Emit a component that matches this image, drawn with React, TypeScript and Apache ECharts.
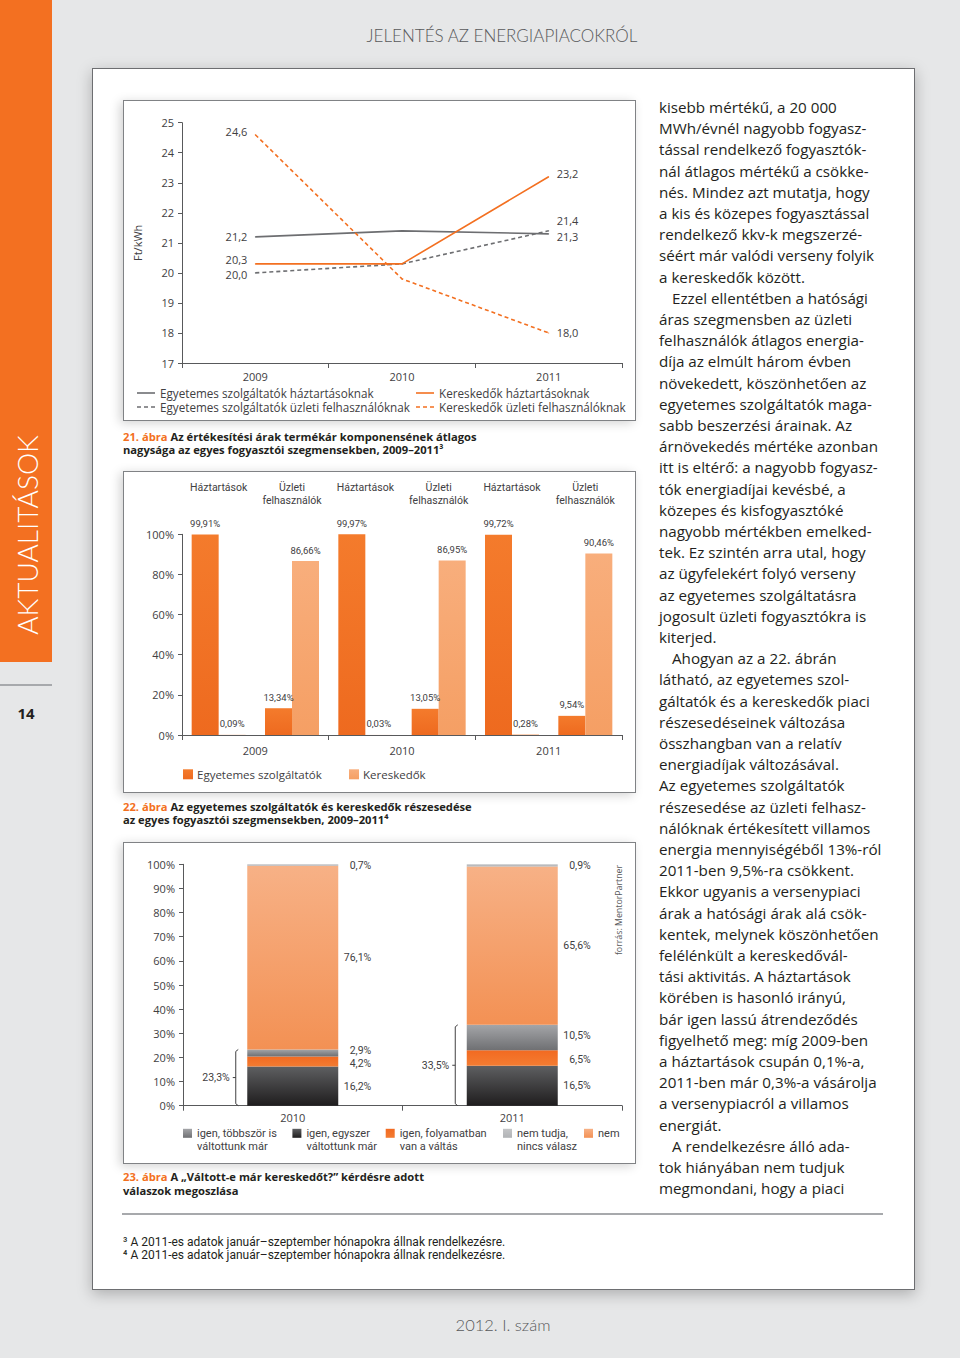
import React, { useEffect, useRef } from 'react';
import * as echarts from 'echarts';

// ---------------- data ----------------
const years = ['2009', '2010', '2011'];
const egyHaztartas = [21.2, 21.4, 21.3];
const egyUzleti = [20.0, 20.3, 21.4];
const kerHaztartas = [20.3, 20.3, 23.2];
const kerUzleti = [24.6, 19.8, 18.0];

const segments = ['Háztartások', 'Üzleti felhasználók'];
const egyShare = [99.91, 13.34, 99.97, 13.05, 99.72, 9.54];
const kerShare = [0.09, 86.66, 0.03, 86.95, 0.28, 90.46];

const surveyYears = ['2010', '2011'];
const valtottEgyszer = [16.2, 16.5];
const folyamatban = [4.2, 6.5];
const tobbszor = [2.9, 10.5];
const nemValtott = [76.1, 65.6];
const nemTudja = [0.7, 0.9];

const bodyLines = [
  'kisebb mértékű, a 20 000',
  'MWh/évnél nagyobb fogyasz-',
  'tással rendelkező fogyasztók-',
  'nál átlagos mértékű a csökke-',
  'nés. Mindez azt mutatja, hogy',
  'a kis és közepes fogyasztással',
  'rendelkező kkv-k megszerzé-',
  'séért már valódi verseny folyik',
  'a kereskedők között.',
  'Ezzel ellentétben a hatósági',
  'áras szegmensben az üzleti',
  'felhasználók átlagos energia-',
  'díja az elmúlt három évben',
  'növekedett, köszönhetően az',
  'egyetemes szolgáltatók maga-',
  'sabb beszerzési árainak. Az',
  'árnövekedés mértéke azonban',
  'itt is eltérő: a nagyobb fogyasz-',
  'tók energiadíjai kevésbé, a',
  'közepes és kisfogyasztóké',
  'nagyobb mértékben emelked-',
  'tek. Ez szintén arra utal, hogy',
  'az ügyfelekért folyó verseny',
  'az egyetemes szolgáltatásra',
  'jogosult üzleti fogyasztókra is',
  'kiterjed.',
  'Ahogyan az a 22. ábrán',
  'látható, az egyetemes szol-',
  'gáltatók és a kereskedők piaci',
  'részesedéseinek változása',
  'összhangban van a relatív',
  'energiadíjak változásával.',
  'Az egyetemes szolgáltatók',
  'részesedése az üzleti felhasz-',
  'nálóknak értékesített villamos',
  'energia mennyiségéből 13%-ról',
  '2011-ben 9,5%-ra csökkent.',
  'Ekkor ugyanis a versenypiaci',
  'árak a hatósági árak alá csök-',
  'kentek, melynek köszönhetően',
  'felélénkült a kereskedővál-',
  'tási aktivitás. A háztartások',
  'körében is hasonló irányú,',
  'bár igen lassú átrendeződés',
  'figyelhető meg: míg 2009-ben',
  'a háztartások csupán 0,1%-a,',
  '2011-ben már 0,3%-a vásárolja',
  'a versenypiacról a villamos',
  'energiát.',
  'A rendelkezésre álló ada-',
  'tok hiányában nem tudjuk',
  'megmondani, hogy a piaci',
];
const indentedLines = [9, 26, 49];

const footnotes = [
  '³ A 2011-es adatok január–szeptember hónapokra állnak rendelkezésre.',
  '⁴ A 2011-es adatok január–szeptember hónapokra állnak rendelkezésre.',
];

// ---------------- styles ----------------
const FONT = "'Open Sans', 'Noto Sans', sans-serif";
const NARROW = "'Liberation Sans Narrow', Roboto, sans-serif";
const ROBOTO = "Roboto, 'Open Sans', sans-serif";
const LIGHT = "Lato, 'Open Sans', sans-serif";
const AX = '#58595b';
const LBL = '#414042';
const TXT = '#231f20';
const ORANGE = '#f37021';
const GRAY_LINE = '#6d6e71';
const BAR23 = 91;

const fmt1 = (v: number) => v.toFixed(1).replace('.', ',');
const fmt2 = (v: number) => v.toFixed(2).replace('.', ',');

const grad = (top: string, bottom: string) =>
  new echarts.graphic.LinearGradient(0, 0, 0, 1, [
    { offset: 0, color: top },
    { offset: 1, color: bottom },
  ]);

const txt = (x: number, y: number, text: string, opts: any = {}, extra: any = {}) => ({
  type: 'text',
  x,
  y,
  silent: true,
  z: 10,
  ...extra,
  style: {
    text,
    fontFamily: FONT,
    fontSize: 11,
    fill: TXT,
    align: 'left',
    verticalAlign: 'middle',
    ...opts,
  },
});

const lineDefs = [
  {
    name: 'Egyetemes szolgáltatók háztartásoknak',
    values: egyHaztartas,
    color: GRAY_LINE,
    dashed: false,
    labels: { 0: ['left', 0], 2: ['right', 3] } as any,
    legend: [137, 393],
  },
  {
    name: 'Egyetemes szolgáltatók üzleti felhasználóknak',
    values: egyUzleti,
    color: GRAY_LINE,
    dashed: true,
    labels: { 0: ['left', 2], 2: ['right', -10] } as any,
    legend: [137, 407],
  },
  {
    name: 'Kereskedők háztartásoknak',
    values: kerHaztartas,
    color: ORANGE,
    dashed: false,
    labels: { 0: ['left', -4], 2: ['right', -3] } as any,
    legend: [416, 393],
  },
  {
    name: 'Kereskedők üzleti felhasználóknak',
    values: kerUzleti,
    color: ORANGE,
    dashed: true,
    labels: { 0: ['left', -3], 2: ['right', 0] } as any,
    legend: [416, 407],
  },
];

const EGY_COLOR = () => grad('#f47b2c', '#ee6a1f');
const KER_COLOR = () => grad('#f8ae7c', '#f59f64');

const surveyDefs = [
  { name: 'igen, egyszer váltottunk már', data: valtottEgyszer, color: () => grad('#5e5f61', '#1f1d1e'), legend: [292.4, 'igen, egyszer\nváltottunk már'], dy: 0 },
  { name: 'igen, folyamatban van a váltás', data: folyamatban, color: () => grad('#f26a21', '#f37c32'), legend: [385.7, 'igen, folyamatban\nvan a váltás'], dy: 1.5 },
  { name: 'igen, többször is váltottunk már', data: tobbszor, color: () => grad('#a4a5a8', '#6f7073'), legend: [183, 'igen, többször is\nváltottunk már'], dy: -2 },
  { name: 'nem', data: nemValtott, color: () => grad('#f7b186', '#f39154'), legend: [584, 'nem'], dy: 0 },
  { name: 'nem tudja, nincs válasz', data: nemTudja, color: () => grad('#c4c5c7', '#b1b3b6'), legend: [503, 'nem tudja,\nnincs válasz'], dy: 0 },
];

const axisLabelStyle = { fontFamily: FONT, fontSize: 11, color: LBL };

function buildOption(): any {
  const lineSeries = lineDefs.map((d, k) => ({
    type: 'line',
    name: d.name,
    xAxisIndex: 0,
    yAxisIndex: 0,
    data: d.values.map((v, i) => {
      const s = d.labels[i];
      return s
        ? {
            value: v,
            label: {
              show: true,
              position: s[0],
              distance: 7.5,
              offset: [0, s[1]],
              formatter: fmt1(v),
              fontFamily: FONT,
              fontSize: 11,
              color: LBL,
            },
          }
        : v;
    }),
    symbol: 'circle',
    symbolSize: 1,
    showSymbol: true,
    itemStyle: { color: d.color },
    lineStyle: { color: d.color, width: 1.6, type: d.dashed ? [4, 3] : 'solid' },
    label: { show: false },
    silent: true,
    z: 3 + k,
  }));

  const shareLabel = {
    show: true,
    position: 'top',
    distance: 6,
    fontFamily: NARROW,
    fontSize: 9.5,
    color: LBL,
    formatter: (p: any) => fmt2(p.value) + '%',
  };

  const shareSeries = [
    { name: 'Egyetemes szolgáltatók', data: egyShare, color: EGY_COLOR() },
    { name: 'Kereskedők', data: kerShare, color: KER_COLOR() },
  ].map((d) => ({
    type: 'bar',
    name: d.name,
    xAxisIndex: 2,
    yAxisIndex: 1,
    data: d.data,
    barWidth: 27,
    barGap: '0%',
    itemStyle: { color: d.color },
    label: shareLabel,
    silent: true,
  }));

  const surveySeries = surveyDefs.map((d) => ({
    type: 'bar',
    name: d.name,
    stack: 'valaszok',
    xAxisIndex: 3,
    yAxisIndex: 2,
    data: d.data,
    barWidth: BAR23,
    itemStyle: { color: d.color() },
    label: {
      show: true,
      position: 'right',
      distance: 33,
      align: 'right',
      offset: [0, d.dy],
      fontFamily: ROBOTO,
      fontSize: 10.5,
      color: LBL,
      formatter: (p: any) => fmt1(p.value) + '%',
    },
    silent: true,
  }));

  const yCommon = {
    type: 'value',
    axisLine: { show: true, lineStyle: { color: AX, width: 1 } },
    axisTick: { show: true, length: 4, lineStyle: { color: AX } },
    splitLine: { show: false },
    axisLabel: { ...axisLabelStyle, margin: 8 },
  };

  const xCommon = {
    type: 'category',
    axisLine: { show: true, onZero: false, lineStyle: { color: AX, width: 1 } },
    axisTick: { show: true, length: 5, lineStyle: { color: AX } },
    splitLine: { show: false },
  };

  return {
    animation: false,
    backgroundColor: 'transparent',
    tooltip: { show: false },
    grid: [
      { left: 182, top: 122.7, width: 440, height: 240.3, outerBoundsMode: 'none' },
      { left: 182, top: 534.3, width: 440, height: 200.7, outerBoundsMode: 'none' },
      { left: 183, top: 864.3, width: 439, height: 241.4, outerBoundsMode: 'none' },
    ],
    xAxis: [
      { ...xCommon, gridIndex: 0, position: 'bottom', data: years, axisLabel: { ...axisLabelStyle, margin: 8 } },
      { ...xCommon, gridIndex: 1, position: 'bottom', data: years, axisLabel: { ...axisLabelStyle, margin: 10 } },
      {
        type: 'category',
        gridIndex: 1,
        position: 'top',
        data: years.flatMap((y) => segments.map((s) => y + ' ' + s)),
        axisLine: { show: false, onZero: false },
        axisTick: { show: false },
        splitLine: { show: false },
        axisLabel: {
          fontFamily: ROBOTO,
          fontSize: 10.5,
          color: LBL,
          interval: 0,
          margin: 52.5,
          lineHeight: 12.3,
          verticalAlign: 'top',
          formatter: (_v: string, i: number) => (i % 2 === 0 ? 'Háztartások' : 'Üzleti\nfelhasználók'),
        },
      },
      { ...xCommon, gridIndex: 2, position: 'bottom', data: surveyYears, axisLabel: { ...axisLabelStyle, margin: 6 } },
    ],
    yAxis: [
      {
        ...yCommon,
        gridIndex: 0,
        min: 17,
        max: 25,
        interval: 1,
        name: 'Ft/kWh',
        nameLocation: 'middle',
        nameGap: 39,
        nameRotate: 90,
        nameTextStyle: { fontFamily: FONT, fontSize: 11, color: LBL },
      },
      { ...yCommon, gridIndex: 1, min: 0, max: 100, interval: 20, axisLabel: { ...axisLabelStyle, margin: 8, formatter: '{value}%' } },
      { ...yCommon, gridIndex: 2, min: 0, max: 100, interval: 10, axisLabel: { ...axisLabelStyle, margin: 8, formatter: '{value}%' } },
    ],
    series: [...lineSeries, ...shareSeries, ...surveySeries],
  };
}

function staticGraphics(): any[] {
  const els: any[] = [];
  // header / footer / sidebar
  els.push(txt(502, 35, 'JELENTÉS AZ ENERGIAPIACOKRÓL', { align: 'center', fontFamily: LIGHT, fontSize: 17, fontWeight: 300, fill: '#58595b' }));
  els.push(txt(503, 1325, '2012. I. szám', { align: 'center', fontFamily: LIGHT, fontSize: 16.5, fontWeight: 300, fill: '#58595b' }));
  els.push(txt(27, 535, 'AKTUALITÁSOK', { align: 'center', fontFamily: LIGHT, fontSize: 28, fontWeight: 300, fill: '#ffffff' }, { rotation: Math.PI / 2 }));
  els.push(txt(26, 713, '14', { align: 'center', fontWeight: 'bold', fontSize: 15, fill: TXT }));

  // legend of chart 21
  lineDefs.forEach((d) => {
    const [lx, ly] = d.legend;
    els.push({
      type: 'line',
      silent: true,
      z: 10,
      shape: { x1: lx, y1: ly, x2: lx + 18, y2: ly },
      style: { stroke: d.color, lineWidth: 1.6, lineDash: d.dashed ? [4, 3] : null },
    });
    els.push(txt(lx + 23, ly, d.name, { fill: LBL, fontSize: 11.7 }));
  });

  // captions
  const cap = (y: number, num: string, rest: string) => ({
    type: 'text',
    x: 123,
    y,
    silent: true,
    z: 10,
    style: {
      text: '{o|' + num + '} ' + rest,
      fontFamily: FONT,
      fontSize: 11.2,
      fontWeight: 'bold',
      fill: TXT,
      lineHeight: 13.5,
      align: 'left',
      verticalAlign: 'top',
      rich: {
        o: { fill: ORANGE, fontFamily: FONT, fontSize: 11.2, fontWeight: 'bold', lineHeight: 13.5 },
      },
    },
  });
  els.push(cap(429.3, '21. ábra', 'Az értékesítési árak termékár komponensének átlagos\nnagysága az egyes fogyasztói szegmensekben, 2009–2011³'));
  els.push(cap(799.3, '22. ábra', 'Az egyetemes szolgáltatók és kereskedők részesedése\naz egyes fogyasztói szegmensekben, 2009–2011⁴'));
  els.push(cap(1170, '23. ábra', 'A „Váltott-e már kereskedőt?” kérdésre adott\nválaszok megoszlása'));

  // legend of chart 22
  [
    { x: 183, name: 'Egyetemes szolgáltatók', color: EGY_COLOR() },
    { x: 349, name: 'Kereskedők', color: KER_COLOR() },
  ].forEach((l) => {
    els.push({ type: 'rect', silent: true, z: 10, shape: { x: l.x, y: 769.3, width: 10, height: 10 }, style: { fill: l.color } });
    els.push(txt(l.x + 14, 774.3, l.name, { fill: LBL, fontSize: 11.5 }));
  });

  // legend of chart 23
  surveyDefs.forEach((d) => {
    const lx = d.legend[0] as number;
    els.push({ type: 'rect', silent: true, z: 10, shape: { x: lx, y: 1128.8, width: 9, height: 9 }, style: { fill: d.color() } });
    els.push(txt(lx + 14, 1127, d.legend[1] as string, { fill: LBL, fontFamily: ROBOTO, fontSize: 11, lineHeight: 12.7, verticalAlign: 'top' }));
  });

  els.push(txt(619, 910, 'forrás: MentorPartner', { align: 'center', fontSize: 8.8, fill: '#58595b' }, { rotation: Math.PI / 2 }));

  // footnotes
  footnotes.forEach((f, i) => els.push(txt(123, 1241.7 + i * 13.3, f, { fontFamily: ROBOTO, fontSize: 12, fill: TXT })));

  // body text
  bodyLines.forEach((line, i) => {
    const indent = indentedLines.indexOf(i) >= 0;
    els.push(txt(indent ? 672 : 659, 107 + i * 21.2, line, { fontSize: 15.2, fill: TXT }));
  });
  return els;
}

function bracketGraphics(chart: any): any[] {
  const els: any[] = [];
  surveyYears.forEach((_, i) => {
    const total = valtottEgyszer[i] + folyamatban[i] + tobbszor[i];
    const top = chart.convertToPixel({ gridIndex: 2 }, [i, total]);
    const bottom = chart.convertToPixel({ gridIndex: 2 }, [i, 0]);
    if (!top || !bottom) return;
    const bx = top[0] - BAR23 / 2 - 11.5;
    const yMid = (top[1] + bottom[1]) / 2;
    els.push({
      type: 'polyline',
      silent: true,
      z: 10,
      shape: { points: [[bx + 2.5, top[1]], [bx, top[1] + 2], [bx, bottom[1] - 2], [bx + 2.5, bottom[1]]] },
      style: { stroke: LBL, lineWidth: 1, fill: null },
    });
    els.push({ type: 'line', silent: true, z: 10, shape: { x1: bx - 3, y1: yMid, x2: bx, y2: yMid }, style: { stroke: LBL, lineWidth: 1 } });
    els.push(txt(bx - 6, yMid, fmt1(total) + '%', { align: 'right', fontFamily: ROBOTO, fontSize: 10.5, fill: LBL }));
  });
  return els;
}

export default function App() {
  const ref = useRef<HTMLDivElement>(null);
  useEffect(() => {
    if (!ref.current) return;
    const chart = echarts.init(ref.current, null, { renderer: 'svg', width: 960, height: 1358 });
    chart.setOption(buildOption());
    chart.setOption({ graphic: { elements: [...staticGraphics(), ...bracketGraphics(chart)] } });
    return () => chart.dispose();
  }, []);

  const abs = (l: number, t: number, w: number, h: number, extra: any = {}) => ({
    position: 'absolute' as const,
    left: l,
    top: t,
    width: w,
    height: h,
    boxSizing: 'border-box' as const,
    ...extra,
  });

  return (
    <div style={abs(0, 0, 960, 1358, { background: '#e6e7e8', overflow: 'hidden' })}>
      <div style={abs(0, 0, 52, 662, { background: ORANGE })} />
      <div style={abs(0, 684, 52, 2, { background: '#a7a9ac' })} />
      <div style={abs(92, 68, 823, 1222, { background: '#ffffff', border: '1px solid #6d6e71', boxShadow: '0 4px 14px rgba(0,0,0,0.25)' })} />
      <div style={abs(123, 100, 513, 321, { background: '#ffffff', border: '1px solid #808285', boxShadow: '-3px 2px 10px rgba(0,0,0,0.18)' })} />
      <div style={abs(123, 471, 513, 322, { background: '#ffffff', border: '1px solid #808285', boxShadow: '-3px 2px 10px rgba(0,0,0,0.18)' })} />
      <div style={abs(123, 842, 513, 322, { background: '#ffffff', border: '1px solid #808285', boxShadow: '-3px 2px 10px rgba(0,0,0,0.18)' })} />
      <div style={abs(122, 1213, 761, 2, { background: '#a7a9ac' })} />
      <div ref={ref} style={abs(0, 0, 960, 1358)} />
    </div>
  );
}
